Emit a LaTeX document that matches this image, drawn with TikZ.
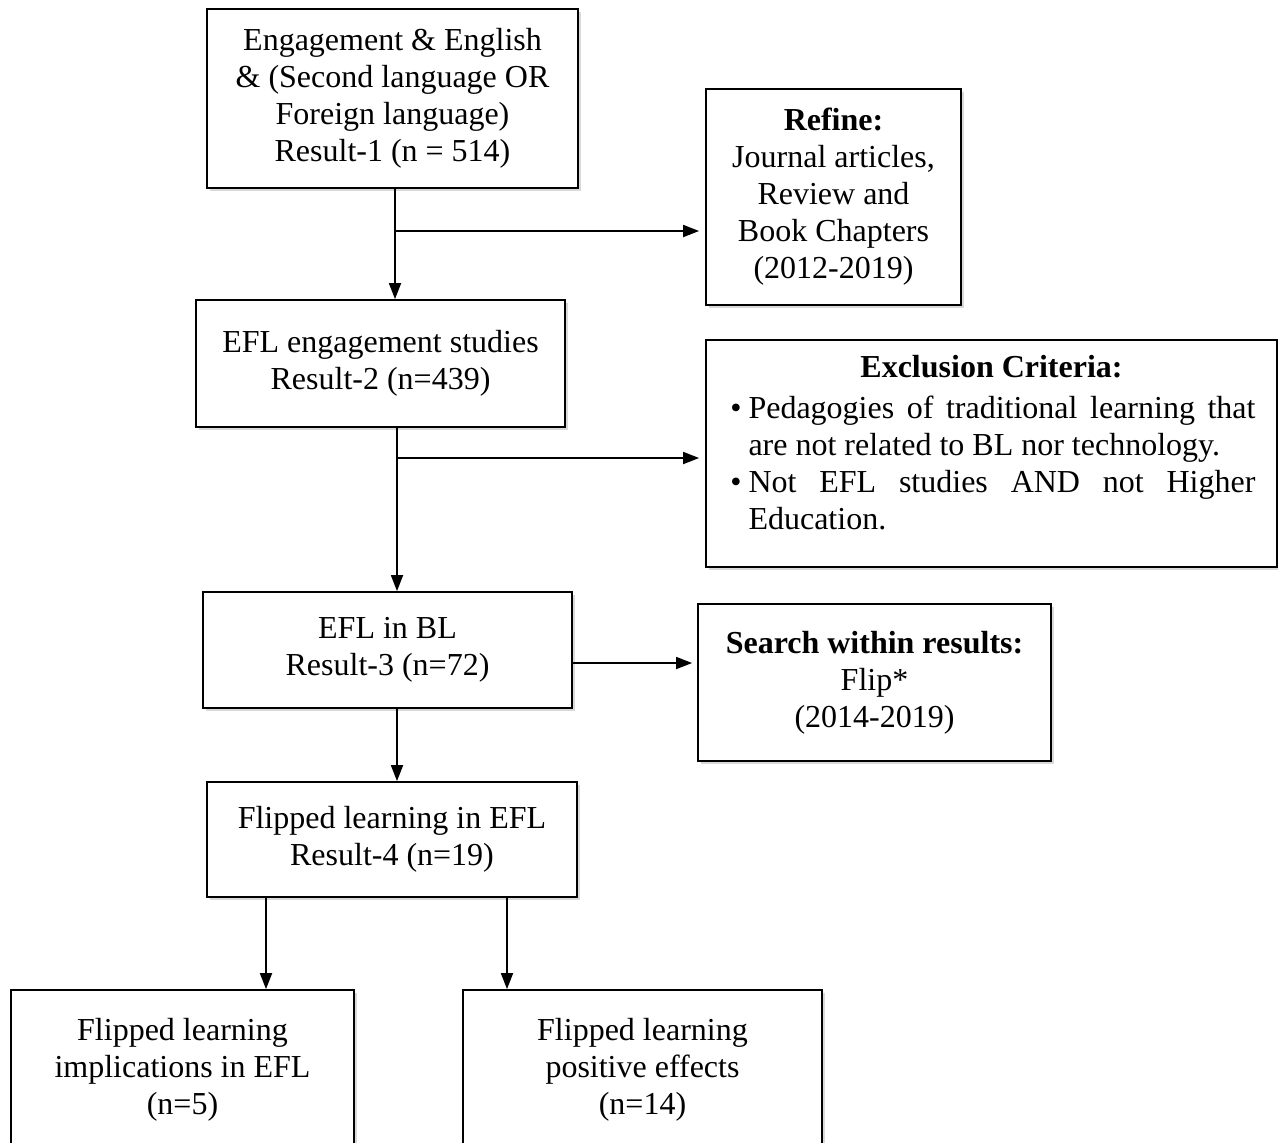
\documentclass[tikz,border=0pt]{standalone}
\usepackage{fontspec}
\setmainfont{Liberation Serif}
\usetikzlibrary{arrows.meta,shadows}

\tikzset{
  box/.style={draw, line width=0.9pt, fill=white, align=center, inner sep=2pt,
    drop shadow={shadow xshift=1.6pt, shadow yshift=-1.6pt, opacity=0.3}},
  arr/.style={-{Triangle[length=8pt,width=6pt]}, line width=0.9pt},
}

\begin{document}
\begin{tikzpicture}[x=0.5pt, y=-0.5pt, every node/.style={font=\fontsize{16}{18.5}\selectfont}]
  \useasboundingbox (0,0) rectangle (1278,1142);

  % Search steps
  \node[box, minimum width=185.5pt, minimum height=89.5pt] (r1) at (392.5,98.5)
    {Engagement \& English\\\& (Second language OR\\Foreign language)\\Result-1 (n = 514)};
  \node[box, minimum width=184.5pt, minimum height=63.5pt] (r2) at (380.5,363.5)
    {EFL engagement studies\\Result-2 (n=439)};
  \node[box, minimum width=184.5pt, minimum height=58pt] (r3) at (387.5,650)
    {EFL in BL\\Result-3 (n=72)};
  \node[box, minimum width=185pt, minimum height=57.5pt] (r4) at (392,839.5)
    {Flipped learning in EFL\\Result-4 (n=19)};

  % Filters
  \node[box, minimum width=127.5pt, minimum height=108pt] (refine) at (833.5,197)
    {\textbf{Refine:}\\Journal articles,\\Review and\\Book Chapters\\(2012-2019)};
  \node[box, minimum width=285.5pt, minimum height=113.5pt, text width=264pt, align=justify] (excl) at (991.5,453.5)
    {\centerline{\textbf{Exclusion Criteria:}}\vspace{2pt}
     \begin{list}{\textbullet}{\setlength\leftmargin{10.5pt}\setlength\labelwidth{7pt}%
       \setlength\labelsep{3.5pt}\setlength\topsep{0pt}\setlength\itemsep{0pt}%
       \setlength\parsep{0pt}\setlength\partopsep{0pt}}
     \item Pedagogies of traditional learning that\linebreak are not related to BL nor technology.
     \item Not EFL studies AND not Higher\linebreak Education.\rule[-11pt]{0pt}{1pt}
     \end{list}};
  \node[box, minimum width=176.5pt, minimum height=78.5pt] (search) at (874.5,682.5)
    {\textbf{Search within results:}\\Flip*\\(2014-2019)};

  % Outcomes
  \node[box, minimum width=171.5pt, minimum height=80pt] (impl) at (182.5,1070)
    {Flipped learning\\implications in EFL\\(n=5)};
  \node[box, minimum width=179.5pt, minimum height=80pt] (pos) at (642.5,1070)
    {Flipped learning\\positive effects\\(n=14)};

  % Flow arrows
  \coordinate (j1) at (395,231);
  \coordinate (j2) at (397,458);
  \coordinate (j3) at (572,663);
  \coordinate (j4) at (266,900);
  \coordinate (j5) at (507,900);
  \draw[arr] (r1.south -| j1) -- (r2.north -| j1);
  \draw[arr, shorten >=3pt] (j1) -- (refine.west |- j1);
  \draw[arr] (r2.south -| j2) -- (r3.north -| j2);
  \draw[arr, shorten >=3pt] (j2) -- (excl.west |- j2);
  \draw[arr, shorten >=2.5pt] (r3.east |- j3) -- (search.west |- j3);
  \draw[arr] (r3.south -| j2) -- (r4.north -| j2);
  \draw[arr] (r4.south -| j4) -- (impl.north -| j4);
  \draw[arr] (r4.south -| j5) -- (pos.north -| j5);
\end{tikzpicture}
\end{document}
